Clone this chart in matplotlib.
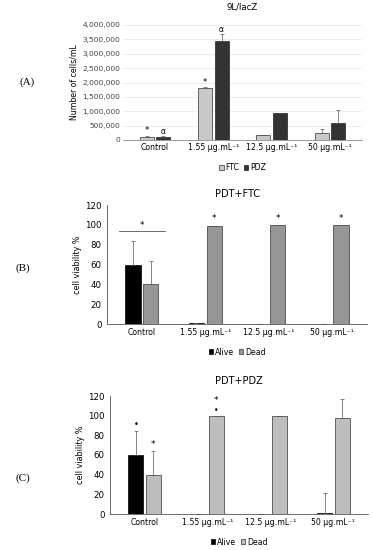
import matplotlib
matplotlib.use("Agg")
import matplotlib.pyplot as plt
import numpy as np

# Categories shared by the three panels
categories = ["Control", "1.55 μg.mL⁻¹", "12.5 μg.mL⁻¹", "50 μg.mL⁻¹"]

# (A) 9L/lacZ cell counts
ftc_counts = [110000, 1810000, 160000, 255000]
ftc_err = [30000, 30000, 15000, 115000]
pdz_counts = [110000, 3450000, 930000, 600000]
pdz_err = [30000, 230000, 20000, 440000]
a_ticks = [0, 500000, 1000000, 1500000, 2000000, 2500000, 3000000, 3500000, 4000000]

# (B) PDT+FTC viability
b_alive = [60, 0.7, 0, 0]
b_alive_err = [24, 0, 0, 0]
b_dead = [40, 99.3, 100, 100]
b_dead_err = [24, 0, 0, 0]

# (C) PDT+PDZ viability
c_alive = [60, 0, 0, 1.5]
c_alive_err = [24, 0, 0, 19.5]
c_dead = [40, 100, 100, 98]
c_dead_err = [24, 0, 0, 19]

fig = plt.figure(figsize=(3.73, 5.5), dpi=100)
W, H = 373, 550


def px_axes(x0, y0, x1, y1):
    # pixel box (top-left origin) -> figure axes
    return fig.add_axes([x0 / W, 1 - y1 / H, (x1 - x0) / W, (y1 - y0) / H])


x = np.arange(len(categories))
bw = 0.24
off = 0.14
tick_fs = 5.4
err_kw = dict(elinewidth=0.5, capsize=1.5, capthick=0.5, ecolor="#555555")

# ---- Panel A
ax = px_axes(123, 25, 362, 140)
ax.bar(x - off, ftc_counts, bw, yerr=[[0] * 4, ftc_err], color="#c8c8c8",
       edgecolor="#333333", linewidth=0.5, label="FTC", error_kw=err_kw)
ax.bar(x + off, pdz_counts, bw, yerr=[[0] * 4, pdz_err], color="#333333",
       edgecolor="#222222", linewidth=0.5, label="PDZ", error_kw=err_kw)
ax.set_ylim(0, 4000000)
ax.set_xlim(-0.55, 3.55)
ax.set_yticks(a_ticks)
ax.set_yticklabels([f"{t:,}" for t in a_ticks], fontsize=tick_fs, color="#444444")
ax.set_xticks(x)
ax.set_xticklabels(categories, fontsize=tick_fs + 0.2)
ax.tick_params(length=0, pad=2)
ax.yaxis.grid(True, color="#e6e6e6", linewidth=0.5)
ax.set_axisbelow(True)
for s in ["top", "right", "left"]:
    ax.spines[s].set_visible(False)
ax.spines["bottom"].set_color("#888888")
ax.spines["bottom"].set_linewidth(0.6)
ax.set_ylabel("Number of cells/mL", fontsize=tick_fs + 0.2, labelpad=3)
ax.set_title("9L/lacZ", fontsize=6.2, pad=11)
ax.text(-off, 160000, "*", ha="center", va="bottom", fontsize=6)
ax.text(off, 150000, "α", ha="center", va="bottom", fontsize=5.5)
ax.text(1 - off, 1860000, "*", ha="center", va="bottom", fontsize=6)
ax.text(1 + off, 3700000, "α", ha="center", va="bottom", fontsize=5.5)
ax.legend(loc="upper center", bbox_to_anchor=(0.5, -0.14), ncol=2, frameon=False,
          fontsize=tick_fs + 0.2, handlelength=0.6, handleheight=0.6,
          handletextpad=0.2, columnspacing=0.6)
fig.text(20 / W, 1 - 82 / H, "(A)", family="Liberation Serif", fontsize=8,
         va="center")


def viability(box, alive, alive_err, dead, dead_err, dead_color, title, pad):
    a = px_axes(*box)
    a.bar(x - off, alive, bw, yerr=[[0] * 4, alive_err], color="black",
          edgecolor="black", linewidth=0.5, label="Alive", error_kw=err_kw)
    a.bar(x + off, dead, bw, yerr=[[0] * 4, dead_err], color=dead_color,
          edgecolor="#333333", linewidth=0.5, label="Dead", error_kw=err_kw)
    a.set_ylim(0, 120)
    a.set_xlim(-0.55, 3.55)
    a.set_yticks(range(0, 121, 20))
    a.tick_params(axis="y", labelsize=6.2, length=0, pad=4)
    a.set_xticks(x)
    a.set_xticklabels(categories, fontsize=5.6)
    a.tick_params(axis="x", length=0, pad=3)
    for s in ["top", "right"]:
        a.spines[s].set_visible(False)
    for s in ["left", "bottom"]:
        a.spines[s].set_color("#555555")
        a.spines[s].set_linewidth(0.6)
    a.set_ylabel("cell viability %", fontsize=5.8, labelpad=2)
    a.set_title(title, fontsize=7, pad=pad)
    a.legend(loc="upper center", bbox_to_anchor=(0.5, -0.14), ncol=2,
             frameon=False, fontsize=5.6, handlelength=0.6, handleheight=0.6,
             handletextpad=0.2, columnspacing=0.6)
    return a


# ---- Panel B
axb = viability((107, 205, 367, 324), b_alive, b_alive_err, b_dead, b_dead_err,
                "#969696", "PDT+FTC", 6)
axb.plot([-0.36, 0.36], [94, 94], color="#555555", linewidth=0.6)
axb.text(0, 95, "*", ha="center", va="bottom", fontsize=6.5)
for i in [1, 2, 3]:
    axb.text(i + off, 102, "*", ha="center", va="bottom", fontsize=6.5)
fig.text(15 / W, 1 - 268 / H, "(B)", family="Liberation Serif", fontsize=8,
         va="center")

# ---- Panel C
axc = viability((110, 396, 368, 514), c_alive, c_alive_err, c_dead, c_dead_err,
                "#bdbdbd", "PDT+PDZ", 9)
axc.text(-off, 86, "•", ha="center", va="bottom", fontsize=6)
axc.text(off, 66, "*", ha="center", va="bottom", fontsize=6.5)
axc.text(1 + off, 101, "•", ha="center", va="bottom", fontsize=5.5)
axc.text(1 + off, 111, "*", ha="center", va="bottom", fontsize=6.5)
fig.text(15 / W, 1 - 478 / H, "(C)", family="Liberation Serif", fontsize=8,
         va="center")

fig.savefig("out.png", dpi=100)
